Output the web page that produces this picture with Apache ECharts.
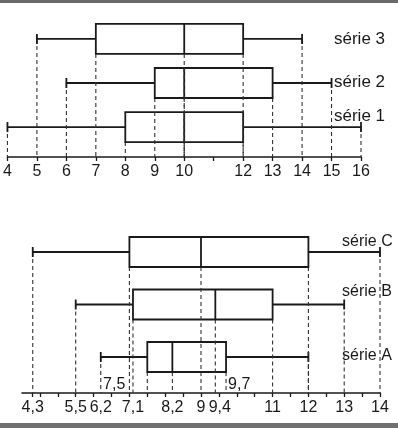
<!DOCTYPE html>
<html>
<head>
<meta charset="utf-8">
<script src="https://cdn.jsdelivr.net/npm/echarts@6/dist/echarts.min.js"></script>
<style>
  html, body { margin: 0; padding: 0; background: #fff; }
  #chart { width: 398px; height: 428px; }
</style>
</head>
<body>
<div id="chart"></div>
<script>
  // top figure: [min, Q1, median, Q3, max]
  const topNames = ['série 1', 'série 2', 'série 3'];
  const topBoxes = [
    [4, 8, 10, 12, 16],
    [6, 9, 10, 13, 15],
    [5, 7, 10, 12, 14]
  ];
  const topTicks = [4, 5, 6, 7, 8, 9, 10, 11, 12, 13, 14, 15, 16];
  const topLabels = [4, 5, 6, 7, 8, 9, 10, 12, 13, 14, 15, 16];

  // bottom figure
  const botNames = ['série A', 'série B', 'série C'];
  const botBoxes = [
    [6.2, 7.5, 8.2, 9.7, 12],
    [5.5, 7.1, 9.4, 11, 13],
    [4.3, 7, 9, 12, 14]
  ];
  const botLabels = [4.3, 5.5, 6.2, 7.1, 8.2, 9, 9.4, 11, 12, 13, 14];
  const botTicks = [4.3, 4.5, 5, 5.5, 6, 6.5, 7, 7.5, 8, 8.5, 9, 9.5, 10, 10.5, 11, 11.5, 12, 12.5, 13, 13.5, 14];
  const botNotes = [7.5, 9.7];

  const ink = '#1a1a1a';
  const narrow = '"Liberation Sans Narrow", "Liberation Sans", sans-serif';
  const fmt = v => String(v).replace('.', ',');

  function boxItem(params, api) {
    const row = api.value(0);
    const px = i => api.coord([api.value(i), row]);
    const yc = px(1)[1];
    const h = 15, cap = 5;
    const axisY = params.coordSys.y + params.coordSys.height;
    const x = [1, 2, 3, 4, 5].map(i => px(i)[0]);
    const solid = { stroke: ink, lineWidth: 1.8, fill: null };
    const dash = { stroke: '#333', lineWidth: 1.1, lineDash: [4, 3] };
    const kids = [];
    // dashed guides down to the axis
    x.forEach((xx, k) => {
      const y0 = (k === 0 || k === 4) ? yc : yc + h;
      kids.push({ type: 'line', shape: { x1: xx, y1: y0, x2: xx, y2: axisY }, style: dash });
    });
    kids.push({ type: 'line', shape: { x1: x[0], y1: yc, x2: x[1], y2: yc }, style: solid });
    kids.push({ type: 'line', shape: { x1: x[3], y1: yc, x2: x[4], y2: yc }, style: solid });
    kids.push({ type: 'line', shape: { x1: x[0], y1: yc - cap, x2: x[0], y2: yc + cap }, style: solid });
    kids.push({ type: 'line', shape: { x1: x[4], y1: yc - cap, x2: x[4], y2: yc + cap }, style: solid });
    kids.push({ type: 'rect', shape: { x: x[1], y: yc - h, width: x[3] - x[1], height: 2 * h }, style: solid });
    kids.push({ type: 'line', shape: { x1: x[2], y1: yc - h, x2: x[2], y2: yc + h }, style: solid });
    return { type: 'group', children: kids };
  }

  function noteItem(params, api) {
    const p = api.coord([api.value(0), 1]);
    const axisY = params.coordSys.y + params.coordSys.height;
    const left = params.dataIndex === 0;
    return {
      type: 'text',
      x: left ? p[0] - 22 : p[0] + 2,
      y: axisY - 8,
      style: {
        text: fmt(api.value(0)),
        align: left ? 'right' : 'left',
        verticalAlign: 'middle',
        font: '16px ' + narrow,
        fill: ink
      }
    };
  }

  const chart = echarts.init(document.getElementById('chart'));

  const axisBase = {
    type: 'value',
    axisLine: { show: true, onZero: false, lineStyle: { color: ink, width: 1.6 } },
    splitLine: { show: false }
  };

  const label = (text, x, y, font) => ({
    type: 'text', x: x, y: y,
    style: { text: text, verticalAlign: 'middle', font: font, fill: ink }
  });

  chart.setOption({
    animation: false,
    backgroundColor: '#fff',
    grid: [
      { left: 5, right: 37, top: 20, bottom: 271 },
      { left: 22, right: 18, top: 228, bottom: 35 }
    ],
    xAxis: [
      Object.assign({}, axisBase, {
        gridIndex: 0, min: 4, max: 16,
        axisTick: { show: true, customValues: topTicks, length: 4, lineStyle: { color: ink, width: 1.3 } },
        axisLabel: {
          customValues: topLabels, margin: 7, color: ink,
          fontFamily: '"Liberation Sans", Arial, sans-serif', fontSize: 16
        }
      }),
      Object.assign({}, axisBase, {
        gridIndex: 1, min: 4, max: 14,
        axisTick: { show: true, customValues: botTicks, length: 4, lineStyle: { color: ink, width: 1.3 } },
        axisLabel: {
          customValues: botLabels, margin: 7, color: ink,
          formatter: v => (v === 9.4 ? '  ' : '') + fmt(v),
          fontFamily: narrow, fontSize: 16
        }
      })
    ],
    yAxis: [
      { type: 'value', gridIndex: 0, min: 0.32, max: 3.43, show: false },
      { type: 'value', gridIndex: 1, min: 0.314, max: 3.457, show: false }
    ],
    graphic: [
      { type: 'rect', shape: { x: 0, y: 0, width: 398, height: 3 }, style: { fill: '#6a6a6a' } },
      { type: 'rect', shape: { x: 0, y: 423, width: 398, height: 5 }, style: { fill: '#707070' } },
      label(topNames[2], 334, 39, '17px ' + narrow),
      label(topNames[1], 334, 82, '17px ' + narrow),
      label(topNames[0], 334, 116, '17px ' + narrow),
      label(botNames[2], 342, 242, '16px "Liberation Sans", sans-serif'),
      label(botNames[1], 342, 292, '16px "Liberation Sans", sans-serif'),
      label(botNames[0], 342, 356, '16px "Liberation Sans", sans-serif')
    ],
    series: [
      {
        type: 'custom', xAxisIndex: 0, yAxisIndex: 0,
        renderItem: boxItem,
        encode: { x: [1, 2, 3, 4, 5], y: 0 },
        data: topBoxes.map((b, i) => [i + 1].concat(b))
      },
      {
        type: 'custom', xAxisIndex: 1, yAxisIndex: 1,
        renderItem: boxItem,
        encode: { x: [1, 2, 3, 4, 5], y: 0 },
        data: botBoxes.map((b, i) => [i + 1].concat(b))
      },
      {
        type: 'custom', xAxisIndex: 1, yAxisIndex: 1,
        renderItem: noteItem,
        encode: { x: 0 },
        data: botNotes.map(v => [v])
      }
    ]
  });
</script>
</body>
</html>
